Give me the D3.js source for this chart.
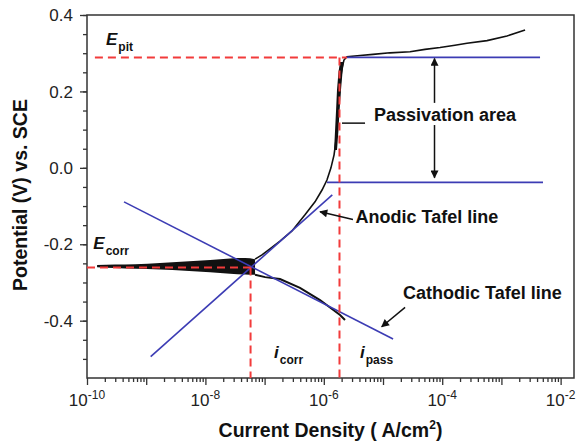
<!DOCTYPE html>
<html lang='en'>
<head>
<meta charset='UTF-8'>
<title>Polarization curve</title>
<script src='https://cdn.jsdelivr.net/npm/d3@7'></script>
<style>
    body { margin: 0; background: #fff; }
    svg { display: block; font-family: 'Liberation Sans', Arial, sans-serif; }
    .tick-label { font-size: 17px; fill: #222; }
    .axis-title { font-size: 19.5px; font-weight: bold; fill: #111; }
    .note { font-size: 18px; font-weight: bold; fill: #111; }
    .sym { font-size: 17px; font-weight: bold; font-style: italic; fill: #111; }
    .sub { font-size: 12px; font-style: normal; }
</style>
</head>
<body>
<svg id='chart' width='579' height='445'></svg>
<script>
// tick labels
let yTickValues = [-0.4, -0.2, 0.0, 0.2, 0.4]
let xTickExps = [-10, -8, -6, -4, -2]

// anodic branch of the scan (A/cm2, V vs SCE)
let anodicI = [6.89e-8, 9.03e-8, 1.23e-7, 1.82e-7, 2.90e-7, 4.81e-7, 7.10e-7, 9.33e-7, 1.13e-6, 1.32e-6,
    1.49e-6, 1.61e-6, 1.70e-6, 1.81e-6, 1.91e-6, 2.03e-6, 2.19e-6, 2.46e-6, 4.09e-6, 6.78e-6,
    1.31e-5, 2.86e-5, 5.12e-5, 9.18e-5, 1.64e-4, 2.62e-4, 5.71e-4, 1.24e-3, 2.51e-3]
let anodicE = [-0.239, -0.228, -0.212, -0.192, -0.165, -0.123, -0.089, -0.058, -0.032, 0.000,
    0.034, 0.073, 0.125, 0.178, 0.230, 0.261, 0.282, 0.291, 0.294, 0.297,
    0.301, 0.304, 0.310, 0.315, 0.321, 0.326, 0.333, 0.345, 0.361]

// cathodic tail
let cathodicI = [6.89e-8, 1.02e-7, 1.82e-7, 3.96e-7, 8.63e-7, 1.88e-6, 2.28e-6]
let cathodicE = [-0.280, -0.286, -0.291, -0.314, -0.346, -0.385, -0.398]

// noisy band around Ecorr: upper / lower potential envelope
let bandI = [1.48e-10, 2.97e-10, 6.47e-10, 1.71e-9, 4.52e-9, 1.20e-8, 2.61e-8, 4.67e-8, 6.89e-8]
let bandHigh = [-0.254, -0.253, -0.252, -0.249, -0.245, -0.241, -0.237, -0.236, -0.239]
let bandLow = [-0.260, -0.262, -0.264, -0.266, -0.269, -0.273, -0.277, -0.279, -0.280]

// noisy part of the passive range: current envelope
let passE = [0.047, 0.099, 0.151, 0.204, 0.251, 0.277]
let passLow = [1.49e-6, 1.55e-6, 1.61e-6, 1.67e-6, 1.77e-6, 1.88e-6]
let passHigh = [1.67e-6, 1.77e-6, 1.84e-6, 1.95e-6, 2.07e-6, 2.19e-6]

// blue lines: cathodic Tafel, anodic Tafel, passivation top, passivation bottom
let blueI1 = [4.22e-10, 1.19e-9, 2.46e-6, 1.13e-6]
let blueE1 = [-0.089, -0.494, 0.289, -0.038]
let blueI2 = [1.48e-5, 1.39e-6, 4.49e-3, 5.04e-3]
let blueE2 = [-0.448, -0.071, 0.289, -0.038]

// red dashed guides: Epit, ipass, Ecorr, icorr
let redI1 = [1.36e-10, 1.84e-6, 1e-10, 5.79e-8]
let redE1 = [0.289, 0.289, -0.261, -0.261]
let redI2 = [2.46e-6, 1.84e-6, 5.79e-8, 5.79e-8]
let redE2 = [0.289, -0.55, -0.261, -0.55]

// arrows (head at the second point)
let arrowI1 = [7.41e-5, 7.41e-5, 3.11e-6, 2.36e-5]
let arrowE1 = [0.170, 0.112, -0.135, -0.365]
let arrowI2 = [7.41e-5, 7.41e-5, 8.63e-7, 9.51e-6]
let arrowE2 = [0.286, -0.026, -0.115, -0.416]

// leader line to "Passivation area"
let leaderI = [2.03e-6, 4.97e-6]
let leaderE = [0.117, 0.117]

// annotations
let noteText = ['Passivation area', 'Anodic Tafel line', 'Cathodic Tafel line']
let noteI = [7.05e-6, 3.43e-6, 2.18e-5]
let noteE = [0.123, -0.144, -0.343]

let symText = ['E', 'E', 'i', 'i']
let symSub = ['pit', 'corr', 'corr', 'pass']
let symI = [2.09e-10, 1.28e-10, 1.44e-7, 4.09e-6]
let symE = [0.321, -0.212, -0.498, -0.498]

let svg = d3.select('#chart')
let mLeft = 87, mRight = 574, mTop = 15, mBottom = 378

let x = d3.scaleLog().domain([1e-10, Math.pow(10, -1.774)]).range([mLeft, mRight])
let y = d3.scaleLinear().domain([-0.55, 0.4]).range([mBottom, mTop])

svg.append('defs').append('marker')
    .attr('id', 'head')
    .attr('markerUnits', 'userSpaceOnUse')
    .attr('viewBox', '0 0 10 10')
    .attr('markerWidth', 9)
    .attr('markerHeight', 8)
    .attr('refX', 9)
    .attr('refY', 5)
    .attr('orient', 'auto')
    .append('path')
    .attr('d', 'M0,0 L10,5 L0,10 z')
    .attr('fill', '#111')

//axes
let yMinor = d3.range(-10, 9).map(k => k * 0.05)
svg.append('g')
    .attr('transform', `translate(${mLeft},0)`)
    .call(d3.axisLeft(y).tickValues(yMinor).tickSize(4).tickFormat(''))
    .call(g => g.select('.domain').remove())
svg.append('g')
    .attr('transform', `translate(${mLeft},0)`)
    .call(d3.axisLeft(y).tickValues(yTickValues).tickSize(7).tickFormat(''))
    .call(g => g.select('.domain').remove())

let xMajor = d3.range(-10, -1).map(e => Math.pow(10, e))
let xMinor = []
xMajor.forEach(function (d) {
    for (let k = 2; k < 10; k++) {
        if (k * d < x.domain()[1]) xMinor.push(k * d)
    }
})
svg.append('g')
    .attr('transform', `translate(0,${mBottom})`)
    .call(d3.axisBottom(x).tickValues(xMinor).tickSize(4).tickFormat(''))
    .call(g => g.select('.domain').remove())
svg.append('g')
    .attr('transform', `translate(0,${mBottom})`)
    .call(d3.axisBottom(x).tickValues(xMajor).tickSize(7).tickFormat(''))
    .call(g => g.select('.domain').remove())

svg.selectAll('.tick line').attr('stroke', '#333').attr('stroke-width', 1.3)

svg.selectAll('.ylab')
    .data(yTickValues)
    .join('text')
    .attr('class', 'tick-label')
    .attr('x', mLeft - 14)
    .attr('y', d => y(d))
    .attr('dy', '0.36em')
    .attr('text-anchor', 'end')
    .text(d => d.toFixed(1))

let xLab = svg.selectAll('.xlab')
    .data(xTickExps)
    .join('text')
    .attr('class', 'tick-label')
    .attr('x', d => x(Math.pow(10, d)))
    .attr('y', mBottom + 28)
    .attr('text-anchor', 'middle')
xLab.append('tspan').text('10')
xLab.append('tspan').attr('dy', -7).style('font-size', '12px').text(d => '-' + Math.abs(d))

// frame
svg.append('rect')
    .attr('x', mLeft)
    .attr('y', mTop)
    .attr('width', mRight - mLeft)
    .attr('height', mBottom - mTop)
    .attr('fill', 'none')
    .attr('stroke', '#333')
    .attr('stroke-width', 1.5)

// axis titles
let xt = svg.append('text')
    .attr('class', 'axis-title')
    .attr('x', (mLeft + mRight) / 2)
    .attr('y', 437)
    .attr('text-anchor', 'middle')
xt.append('tspan').text('Current Density ( A/cm')
xt.append('tspan').attr('dy', -8).style('font-size', '12px').text('2')
xt.append('tspan').attr('dy', 8).text(')')

svg.append('text')
    .attr('class', 'axis-title')
    .attr('transform', 'translate(27,195) rotate(-90)')
    .attr('text-anchor', 'middle')
    .text('Potential (V) vs. SCE')

// measured curve
svg.append('path')
    .attr('d', d3.area().curve(d3.curveMonotoneX).x(d => x(d)).y0((d, i) => y(bandLow[i])).y1((d, i) => y(bandHigh[i]))(bandI))
    .attr('fill', '#111')
svg.append('path')
    .attr('d', d3.area().y(d => y(d)).x0((d, i) => x(passLow[i])).x1((d, i) => x(passHigh[i]))(passE))
    .attr('fill', '#111')
let line = d3.line().x(d => x(d[0])).y(d => y(d[1]))
svg.append('path')
    .attr('d', line(d3.zip(anodicI, anodicE)))
    .attr('fill', 'none')
    .attr('stroke', '#111')
    .attr('stroke-width', 1.6)
svg.append('path')
    .attr('d', line(d3.zip(cathodicI, cathodicE)))
    .attr('fill', 'none')
    .attr('stroke', '#111')
    .attr('stroke-width', 2)

// blue construction lines
svg.selectAll('.blue')
    .data(blueI1)
    .join('line')
    .attr('x1', d => x(d))
    .attr('y1', (d, i) => y(blueE1[i]))
    .attr('x2', (d, i) => x(blueI2[i]))
    .attr('y2', (d, i) => y(blueE2[i]))
    .attr('stroke', '#3c3cb4')
    .attr('stroke-width', 1.6)

// red dashed guides
svg.selectAll('.red')
    .data(redI1)
    .join('line')
    .attr('x1', d => x(d))
    .attr('y1', (d, i) => y(redE1[i]))
    .attr('x2', (d, i) => x(redI2[i]))
    .attr('y2', (d, i) => y(redE2[i]))
    .attr('stroke', '#f23b3b')
    .attr('stroke-width', 2)
    .attr('stroke-dasharray', '8,5')

// arrows
svg.selectAll('.arrow')
    .data(arrowI1)
    .join('line')
    .attr('x1', d => x(d))
    .attr('y1', (d, i) => y(arrowE1[i]))
    .attr('x2', (d, i) => x(arrowI2[i]))
    .attr('y2', (d, i) => y(arrowE2[i]))
    .attr('stroke', '#111')
    .attr('stroke-width', 1.5)
    .attr('marker-end', 'url(#head)')

svg.append('path')
    .attr('d', line(d3.zip(leaderI, leaderE)))
    .attr('stroke', '#111')
    .attr('stroke-width', 1.5)

// annotations
svg.selectAll('.note')
    .data(noteText)
    .join('text')
    .attr('class', 'note')
    .attr('x', (d, i) => x(noteI[i]))
    .attr('y', (d, i) => y(noteE[i]))
    .text(d => d)

let sym = svg.selectAll('.sym')
    .data(symText)
    .join('text')
    .attr('class', 'sym')
    .attr('x', (d, i) => x(symI[i]))
    .attr('y', (d, i) => y(symE[i]))
sym.append('tspan').text(d => d)
sym.append('tspan').attr('class', 'sub').attr('dx', 1).attr('dy', 6).text((d, i) => symSub[i])
</script>
</body>
</html>
